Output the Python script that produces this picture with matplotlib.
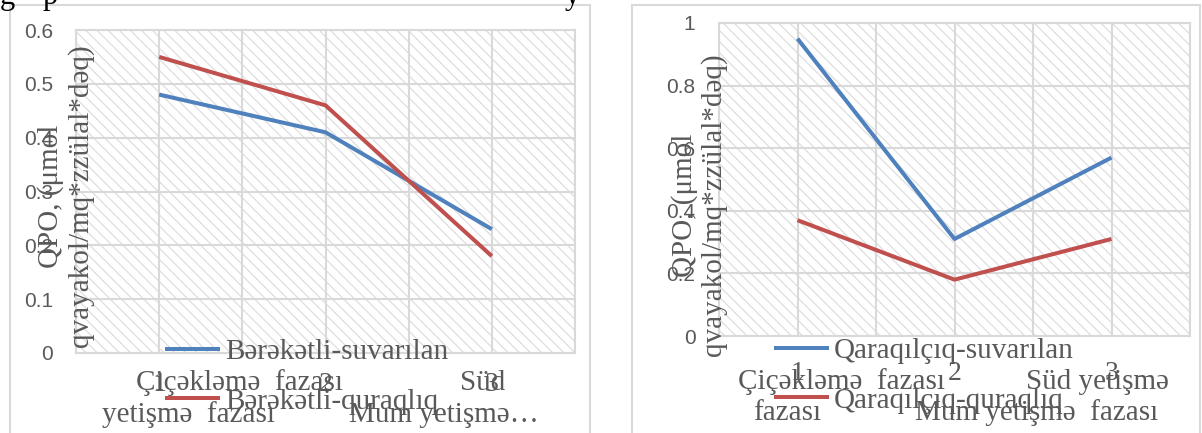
import matplotlib
matplotlib.use("Agg")
import matplotlib.pyplot as plt
from matplotlib.patches import Rectangle
import numpy as np

# data
stages = [1, 2, 3]
berekatli_suv = [0.48, 0.41, 0.23]
berekatli_qur = [0.55, 0.46, 0.18]
qaraqilciq_suv = [0.95, 0.31, 0.57]
qaraqilciq_qur = [0.37, 0.18, 0.31]

ylabel = "QPO, (μmol\nqvayakol/mq*zzülal*dəq)"
left_names = ["Bərəkətli-suvarılan", "Bərəkətli-quraqlıq"]
right_names = ["Qaraqılçıq-suvarılan", "Qaraqılçıq-quraqlıq"]

blue = "#4f81bd"
red = "#c0504d"
grey_txt = "#595959"
grid_c = "#d9d9d9"
serif = "Liberation Serif"
sans = "Liberation Sans"

plt.rcParams["hatch.linewidth"] = 0.9

W, H = 1202, 433
fig = plt.figure(figsize=(W / 100, H / 100), dpi=100)


def px(x, y):
    # pixel position -> figure fraction
    return x / W, 1 - y / H


def axes_box(x0, y0, x1, y1):
    return [x0 / W, 1 - y1 / H, (x1 - x0) / W, (y1 - y0) / H]


# chart frames
fig.patches.append(Rectangle(px(10, 445), 580 / W, 440 / H, transform=fig.transFigure,
                             fill=False, edgecolor=grid_c, lw=1.5))
fig.patches.append(Rectangle(px(632, 445), 568 / W, 440 / H, transform=fig.transFigure,
                             fill=False, edgecolor=grid_c, lw=1.5))

# cut off line of document text at the very top
for ch, xx in [("g", 0), ("p", 43), ("y", 565)]:
    fig.text(*px(xx, 4), ch, fontsize=22, family=serif, color="black", va="baseline")


def make_panel(box, s1, s2, names, ymax, ystep, pad_y, pad_x, legend_xy):
    ax = fig.add_axes(box)
    ax.add_patch(Rectangle((0, 0), 1, 1, transform=ax.transAxes, facecolor="white",
                           edgecolor="#dedede", lw=0, hatch="\\\\\\", zorder=0.2))
    ax.plot(stages, s1, color=blue, lw=2.9, label=names[0], solid_capstyle="butt", zorder=3)
    ax.plot(stages, s2, color=red, lw=2.9, label=names[1], solid_capstyle="butt", zorder=3)
    ax.set_xlim(0.5, 3.5)
    ax.set_ylim(0, ymax)
    yt = np.arange(0, ymax + ystep / 2, ystep)
    ax.set_yticks(yt)
    ax.set_yticklabels([f"{v:g}" for v in yt], fontfamily=sans, fontsize=15, color=grey_txt)
    ax.set_xticks(stages)
    ax.set_xticklabels([str(s) for s in stages], fontfamily=serif, fontsize=20, color=grey_txt)
    ax.set_xticks(np.arange(0.5, 3.6, 0.5), minor=True)
    ax.tick_params(axis="both", which="both", length=0)
    ax.tick_params(axis="y", pad=pad_y)
    ax.tick_params(axis="x", pad=pad_x)
    ax.set_axisbelow(True)
    ax.grid(axis="x", which="both", color=grid_c, lw=1.5)
    ax.grid(axis="y", which="major", color=grid_c, lw=1.5)
    for sp in ax.spines.values():
        sp.set_color(grid_c)
        sp.set_linewidth(1.5)
    leg = ax.legend(loc="upper left", bbox_to_anchor=px(*legend_xy), bbox_transform=fig.transFigure,
                    frameon=False, prop={"family": serif, "size": 21}, labelcolor=grey_txt,
                    handlelength=1.9, handletextpad=0.15, borderpad=0, borderaxespad=0,
                    labelspacing=0.78)
    leg.set_zorder(5)
    return ax


ax1 = make_panel(axes_box(76, 30, 575, 353), berekatli_suv, berekatli_qur, left_names,
                 0.6, 0.1, 16.5, 14, (165, 339))
ax2 = make_panel(axes_box(719, 23, 1190, 336), qaraqilciq_suv, qaraqilciq_qur, right_names,
                 1.0, 0.2, 17, 18, (774, 338))

# y axis titles
fig.text(*px(66, 196), ylabel, rotation=90, ha="center", va="center", multialignment="center",
         family=serif, fontsize=21, color=grey_txt, linespacing=1.15)
fig.text(*px(699, 205), ylabel, rotation=90, ha="center", va="center", multialignment="center",
         family=serif, fontsize=21, color=grey_txt, linespacing=1.1)

# wrapped category names (as Word laid them out)
cat_text = [
    (240, 383, "Çiçəkləmə  fazası"), (188, 415, "yetişmə  fazası"),
    (483, 383, "Süd"), (444, 415, "Mum yetişmə…"),
    (842, 382, "Çiçəkləmə  fazası"), (787, 413, "fazası"),
    (1097, 382, "Süd yetişmə"), (1037, 413, "Mum yetişmə  fazası"),
]
for xx, yy, s in cat_text:
    fig.text(*px(xx, yy), s, ha="center", va="center", family=serif, fontsize=21, color=grey_txt)

fig.savefig("out.png", dpi=100)
